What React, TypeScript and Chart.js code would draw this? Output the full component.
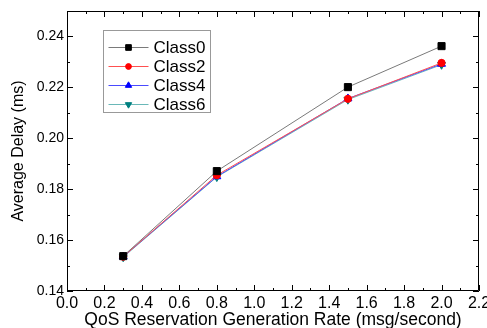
import React, { useEffect, useRef } from "react";
import { Chart, registerables } from "chart.js";
import { drawPoint } from "chart.js/helpers";

Chart.register(...registerables);

const xValues = [0.3, 0.8, 1.5, 2.0];
const class0 = [0.1537, 0.1871, 0.2201, 0.2362];
const class2 = [0.1535, 0.1855, 0.2155, 0.2296];
const class4 = [0.1535, 0.185, 0.2156, 0.2292];
const class6 = [0.1533, 0.1848, 0.2152, 0.2289];
const seriesNames = ["Class0", "Class2", "Class4", "Class6"];
const xTicks = [0, 0.2, 0.4, 0.6, 0.8, 1.0, 1.2, 1.4, 1.6, 1.8, 2.0, 2.2];
const yTicks = [0.14, 0.16, 0.18, 0.2, 0.22, 0.24];
const xMinor = [0.1, 0.3, 0.5, 0.7, 0.9, 1.1, 1.3, 1.5, 1.7, 1.9, 2.1];
const yMinor = [0.15, 0.17, 0.19, 0.21, 0.23, 0.25];

const lineColors = ["#7a7a7a", "#ff5050", "#4a4aff", "#6ab8b8"];
const markColors = ["#000000", "#ff0000", "#0000ff", "#008080"];
const markStyles = ["rect", "circle", "triangle", "triangle"];
const markRot = [0, 0, 0, 180];
const markRadius = [5, 3.6, 4.6, 4.6];

const frameAndTicks = {
  id: "frameAndTicks",
  afterDatasetsDraw(chart: any) {
    const { ctx, chartArea: a, scales } = chart;
    const xs = scales.x;
    const ys = scales.y;
    ctx.save();
    ctx.strokeStyle = "#000";
    ctx.lineWidth = 1;
    ctx.beginPath();
    ctx.rect(Math.round(a.left) + 0.5, Math.round(a.top) + 0.5, Math.round(a.right - a.left) - 1, Math.round(a.bottom - a.top) - 1);
    ctx.stroke();
    const tick = (vals: number[], len: number) => {
      vals.forEach((v) => {
        const px = Math.round(xs.getPixelForValue(v)) + 0.5;
        ctx.beginPath();
        ctx.moveTo(px, a.bottom);
        ctx.lineTo(px, a.bottom - len);
        ctx.moveTo(px, a.top);
        ctx.lineTo(px, a.top + len);
        ctx.stroke();
      });
    };
    const tickY = (vals: number[], len: number) => {
      vals.forEach((v) => {
        const py = Math.round(ys.getPixelForValue(v)) + 0.5;
        ctx.beginPath();
        ctx.moveTo(a.left, py);
        ctx.lineTo(a.left + len, py);
        ctx.moveTo(a.right, py);
        ctx.lineTo(a.right - len, py);
        ctx.stroke();
      });
    };
    tick(xTicks, 6);
    tick(xMinor, 3);
    tickY(yTicks, 6);
    tickY(yMinor, 3);

    // legend
    const bx = a.left + 36.5;
    const by = a.top + 19.5;
    const bw = 107;
    const bh = 82;
    ctx.strokeStyle = "#999";
    ctx.strokeRect(bx, by, bw, bh);
    ctx.font = "17px 'Liberation Sans', Arial, sans-serif";
    ctx.textBaseline = "middle";
    ctx.fillStyle = "#000";
    chart.data.datasets.forEach((ds: any, i: number) => {
      const ry = by + 17 + i * 19;
      ctx.strokeStyle = ds.borderColor;
      ctx.lineWidth = 1;
      ctx.beginPath();
      ctx.moveTo(bx + 5, ry);
      ctx.lineTo(bx + 45, ry);
      ctx.stroke();
      ctx.fillStyle = ds.pointBackgroundColor;
      ctx.strokeStyle = ds.pointBorderColor;
      drawPoint(ctx, { pointStyle: ds.pointStyle, rotation: ds.pointRotation, radius: ds.pointRadius * 0.8, borderWidth: 1 }, bx + 25, ry);
      ctx.fillStyle = "#000";
      ctx.fillText(ds.label, bx + 50, ry + 1);
    });
    ctx.restore();
  },
};

export default function App() {
  const ref = useRef<HTMLCanvasElement>(null);
  useEffect(() => {
    const seriesData = [class0, class2, class4, class6];
    const chart = new Chart(ref.current!, {
      type: "line",
      data: {
        datasets: seriesData.map((vals, i) => ({
          label: seriesNames[i],
          data: vals.map((v, j) => ({ x: xValues[j], y: v })),
          borderColor: lineColors[i],
          borderWidth: 1,
          pointStyle: markStyles[i],
          pointRotation: markRot[i],
          pointRadius: markRadius[i],
          pointBackgroundColor: markColors[i],
          pointBorderColor: markColors[i],
          pointBorderWidth: 1,
          tension: 0,
        })),
      },
      options: {
        animation: false,
        responsive: false,
        devicePixelRatio: 1,
        layout: { padding: { top: 11, right: 8, left: 0, bottom: 0 } },
        plugins: { legend: { display: false }, tooltip: { enabled: false } },
        scales: {
          x: {
            type: "linear",
            min: 0,
            max: 2.2,
            grid: { display: false, drawTicks: false },
            border: { display: false },
            afterBuildTicks: (s: any) => {
              s.ticks = xTicks.map((v) => ({ value: v }));
            },
            afterFit: (s: any) => {
              s.height = 37;
              s.paddingLeft = 0;
              s.paddingRight = 0;
            },
            ticks: {
              autoSkip: false,
              maxRotation: 0,
              padding: 3,
              color: "#000",
              font: { family: "'Liberation Sans', Arial, sans-serif", size: 16 },
              callback: (v: any) => Number(v).toFixed(1),
            },
            title: {
              display: true,
              text: "QoS Reservation Generation Rate (msg/second)",
              color: "#000",
              font: { family: "'Liberation Sans', Arial, sans-serif", size: 17.5, lineHeight: 0.85 },
              padding: { top: 0, bottom: 0 },
            },
          },
          y: {
            type: "linear",
            min: 0.14,
            max: 0.25,
            grid: { display: false, drawTicks: false },
            border: { display: false },
            afterBuildTicks: (s: any) => {
              s.ticks = yTicks.map((v) => ({ value: v }));
            },
            afterFit: (s: any) => {
              s.width = 67;
              s.paddingTop = 0;
              s.paddingBottom = 0;
            },
            ticks: {
              autoSkip: false,
              padding: 3,
              color: "#000",
              font: { family: "'Liberation Sans', Arial, sans-serif", size: 14 },
              callback: (v: any) => Number(v).toFixed(2),
            },
            title: {
              display: true,
              text: "Average Delay (ms)",
              color: "#000",
              font: { family: "'Liberation Sans', Arial, sans-serif", size: 16 },
              padding: { top: 9, bottom: 0 },
            },
          },
        },
      },
      plugins: [frameAndTicks],
    } as any);
    return () => chart.destroy();
  }, []);
  return (
    <div style={{ position: "fixed", left: 0, top: 0, width: 487, height: 328, background: "#fff" }}>
      <canvas ref={ref} width={487} height={328} style={{ width: 487, height: 328 }} />
    </div>
  );
}
